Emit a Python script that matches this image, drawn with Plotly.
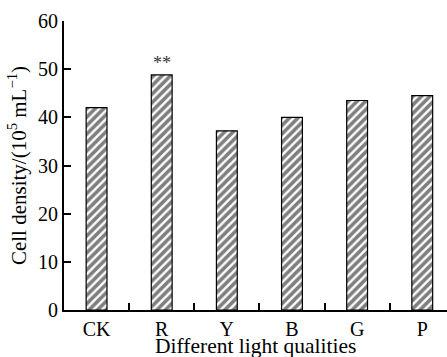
import plotly.graph_objects as go

categories = ["CK", "R", "Y", "B", "G", "P"]
cell_density = [42.0, 48.8, 37.2, 40.0, 43.5, 44.5]
significance = ["", "**", "", "", "", ""]
y_ticks = [0, 10, 20, 30, 40, 50, 60]

FONT = "Liberation Serif"

fig = go.Figure()
fig.add_trace(go.Bar(
    x=categories, y=cell_density, width=0.32,
    marker=dict(color="white", line=dict(color="black", width=1.2),
                pattern=dict(shape="/", fgcolor="black", bgcolor="white", size=6, solidity=0.6)),
    showlegend=False,
))
for c, v, s in zip(categories, cell_density, significance):
    if s:
        fig.add_annotation(x=c, y=v, text=s, showarrow=False, yanchor="bottom", yshift=0,
                           font=dict(family=FONT, size=18, color="#333"))

fig.add_annotation(text="Different light qualities", xref="paper", yref="paper",
                   x=0.5, y=-0.125, xanchor="center", yanchor="middle", showarrow=False,
                   font=dict(family=FONT, size=21.5, color="black"))

fig.update_layout(
    width=447, height=357,
    margin=dict(l=64, r=0, t=21, b=47),
    paper_bgcolor="white", plot_bgcolor="white",
    font=dict(family=FONT, size=20, color="black"),
    xaxis=dict(type="category", range=[-0.5, 5.38], tickson="boundaries",
               ticks="inside", ticklen=7, tickwidth=2, tickcolor="black",
               showline=True, linecolor="black", linewidth=2, showgrid=False,
               tickfont=dict(size=20)),
    yaxis=dict(range=[0, 60], tickvals=y_ticks, ticks="inside", ticklen=7, tickwidth=2,
               tickcolor="black", showline=True, linecolor="black", linewidth=2,
               showgrid=False, zeroline=False,
               title=dict(text="Cell density/(10<sup>5</sup> mL<sup>−1</sup>)", standoff=6, font=dict(size=21)),
               tickfont=dict(size=20)),
)
fig.write_html("out.html", config={"displayModeBar": False},
               post_script="document.body.style.margin='0';document.body.style.overflow='hidden';")
